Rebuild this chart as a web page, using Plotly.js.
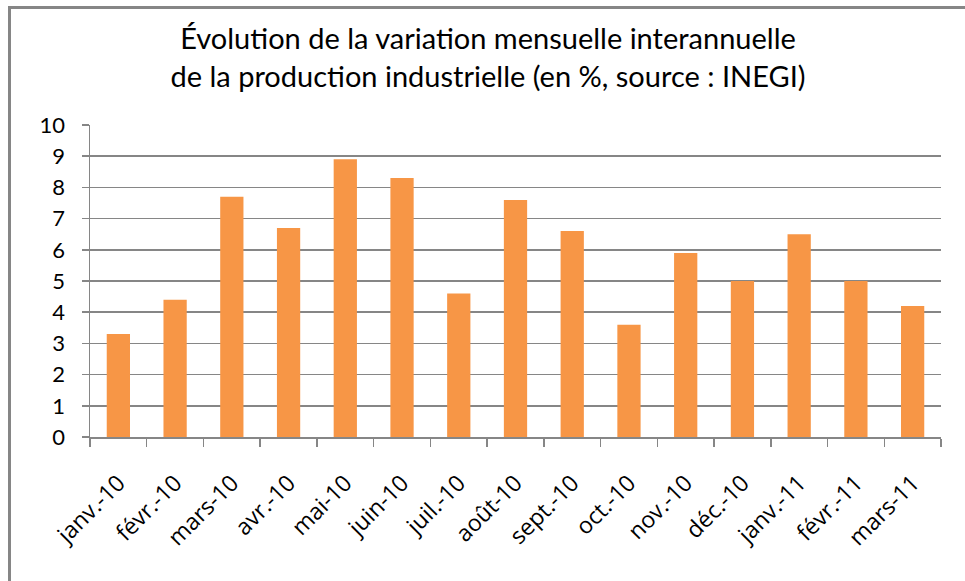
<!DOCTYPE html>
<html>
<head>
<meta charset="utf-8">
<script src="https://cdn.plot.ly/plotly-3.0.1.min.js"></script>
<style>
html, body { margin: 0; padding: 0; background: #fff; overflow: hidden; }
#wrap { position: absolute; left: 8px; top: 6px; width: 957px; height: 575px;
        border-left: 3px solid #868686; border-top: 3px solid #868686; }
#chart { width: 954px; height: 572px; }
</style>
</head>
<body>
<div id="wrap"><div id="chart"></div></div>
<script>
const months = ["janv.-10","févr.-10","mars-10","avr.-10","mai-10","juin-10","juil.-10","août-10","sept.-10","oct.-10","nov.-10","déc.-10","janv.-11","févr.-11","mars-11"];
const variation = [3.3, 4.4, 7.7, 6.7, 8.9, 8.3, 4.6, 7.6, 6.6, 3.6, 5.9, 5.0, 6.5, 5.0, 4.2];
const yTicks = [0,1,2,3,4,5,6,7,8,9,10];
const titleText = "Évolution de la variation mensuelle interannuelle<br>de la production industrielle (en %, source : INEGI)";

const grey = "#868686";
const data = [{
  type: "bar",
  x: months,
  y: variation,
  marker: { color: "#F79646" },
  hoverinfo: "x+y"
}];

const layout = {
  width: 954, height: 572,
  margin: { l: 79, r: 24, t: 116, b: 144 },
  paper_bgcolor: "#fff", plot_bgcolor: "#fff",
  bargap: 0.59,
  showlegend: false,
  font: { family: "Lato, 'Open Sans', sans-serif", color: "#000" },
  title: {
    text: titleText,
    font: { family: "Lato, sans-serif", size: 29, color: "#000" },
    x: 0.5, xref: "container", xanchor: "center",
    y: 1, yref: "container", yanchor: "top", pad: { t: 40 }
  },
  xaxis: {
    type: "category",
    tickangle: -45,
    tickfont: { size: 23, family: "'Open Sans', sans-serif" },
    showline: true, linecolor: grey, linewidth: 1.5,
    ticks: "outside", tickson: "boundaries", ticklen: 8, tickcolor: grey, tickwidth: 1.5,
    showgrid: false, zeroline: false,
    ticklabelstandoff: 22,
    automargin: false
  },
  yaxis: {
    range: [0, 10],
    tickvals: yTicks,
    ticktext: yTicks.map(String),
    tickfont: { size: 22, family: "Lato, sans-serif" },
    showline: true, linecolor: grey, linewidth: 1.5,
    ticks: "outside", ticklen: 7, tickcolor: grey, tickwidth: 1.5,
    showgrid: true, gridcolor: grey, gridwidth: 1.5,
    zeroline: false,
    ticklabelstandoff: 12,
    automargin: false
  }
};

Plotly.newPlot("chart", data, layout, { displayModeBar: false, staticPlot: true });
</script>
</body>
</html>
